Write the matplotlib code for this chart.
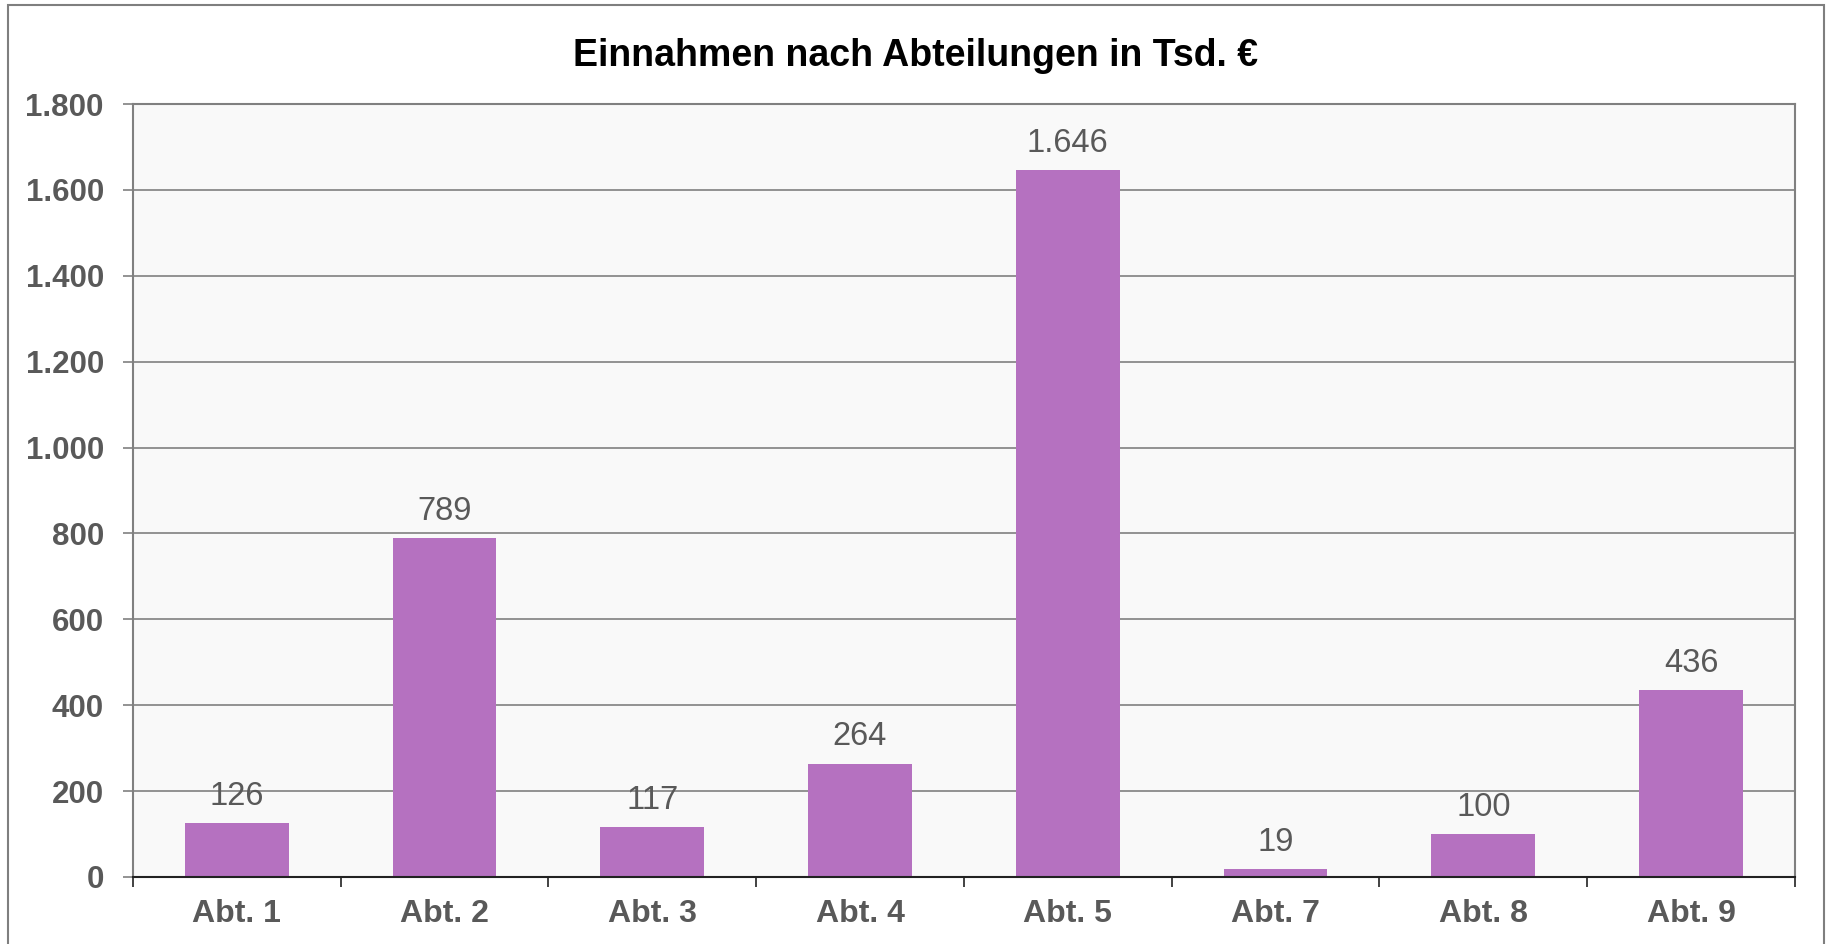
import matplotlib
matplotlib.use("Agg")
import matplotlib.pyplot as plt
from matplotlib.patches import Rectangle
import numpy as np

# -------------------- DATA --------------------
abteilungen = ["Abt. 1", "Abt. 2", "Abt. 3", "Abt. 4", "Abt. 5", "Abt. 7", "Abt. 8", "Abt. 9"]
einnahmen = [126, 789, 117, 264, 1646, 19, 100, 436]
y_ticks = [0, 200, 400, 600, 800, 1000, 1200, 1400, 1600, 1800]

title = "Einnahmen nach Abteilungen in Tsd. €"
bar_color = "#B571C0"
text_gray = "#595959"
grid_gray = "#808080"


def de_format(v):
    # German thousands separator
    return f"{v:,.0f}".replace(",", ".")


plt.rcParams["font.family"] = ["Liberation Sans", "DejaVu Sans"]

fig = plt.figure(figsize=(18.31, 9.44), dpi=100)
ax = fig.add_axes([0.0726, 0.0710, 0.9077, 0.8188])
ax.set_facecolor("#F9F9F9")

x = np.arange(len(abteilungen))
ax.bar(x, einnahmen, width=0.5, color=bar_color, zorder=3)

for xi, v in zip(x, einnahmen):
    ax.annotate(de_format(v), (xi, v), xytext=(0, 8), textcoords="offset points",
                ha="center", va="bottom", fontsize=23.5, color=text_gray, zorder=4)

ax.set_xlim(-0.5, len(abteilungen) - 0.5)
ax.set_ylim(0, 1800)
ax.set_yticks(y_ticks)
ax.set_yticklabels([de_format(t) for t in y_ticks], fontsize=22.5, fontweight="bold", color=text_gray)
ax.tick_params(axis="y", length=7, width=1.2, color=grid_gray, pad=14)

ax.set_xticks(x)
ax.set_xticklabels(abteilungen, fontsize=23, fontweight="bold", color=text_gray)
ax.tick_params(axis="x", which="major", length=0, pad=16)
ax.set_xticks(np.arange(-0.5, len(abteilungen)), minor=True)
ax.tick_params(axis="x", which="minor", length=7, width=1.2, color="#222222")

ax.yaxis.grid(True, color=grid_gray, linewidth=1.2, zorder=1)
ax.set_axisbelow(True)

for side in ["left", "right", "top"]:
    ax.spines[side].set_color(grid_gray)
    ax.spines[side].set_linewidth(1.5)
ax.spines["bottom"].set_color("#222222")
ax.spines["bottom"].set_linewidth(1.5)
ax.spines["bottom"].set_zorder(5)

fig.text(0.5, 0.941, title, ha="center", va="center", fontsize=27, fontweight="bold", color="black")

# outer chart frame
frame = Rectangle((8 / 1831, -0.02), (1824 - 8) / 1831, 1.02 - 5 / 944,
                  transform=fig.transFigure, fill=False, edgecolor="#7F7F7F", linewidth=1.5)
fig.patches.append(frame)

fig.savefig("out.png", dpi=100, facecolor="white")
